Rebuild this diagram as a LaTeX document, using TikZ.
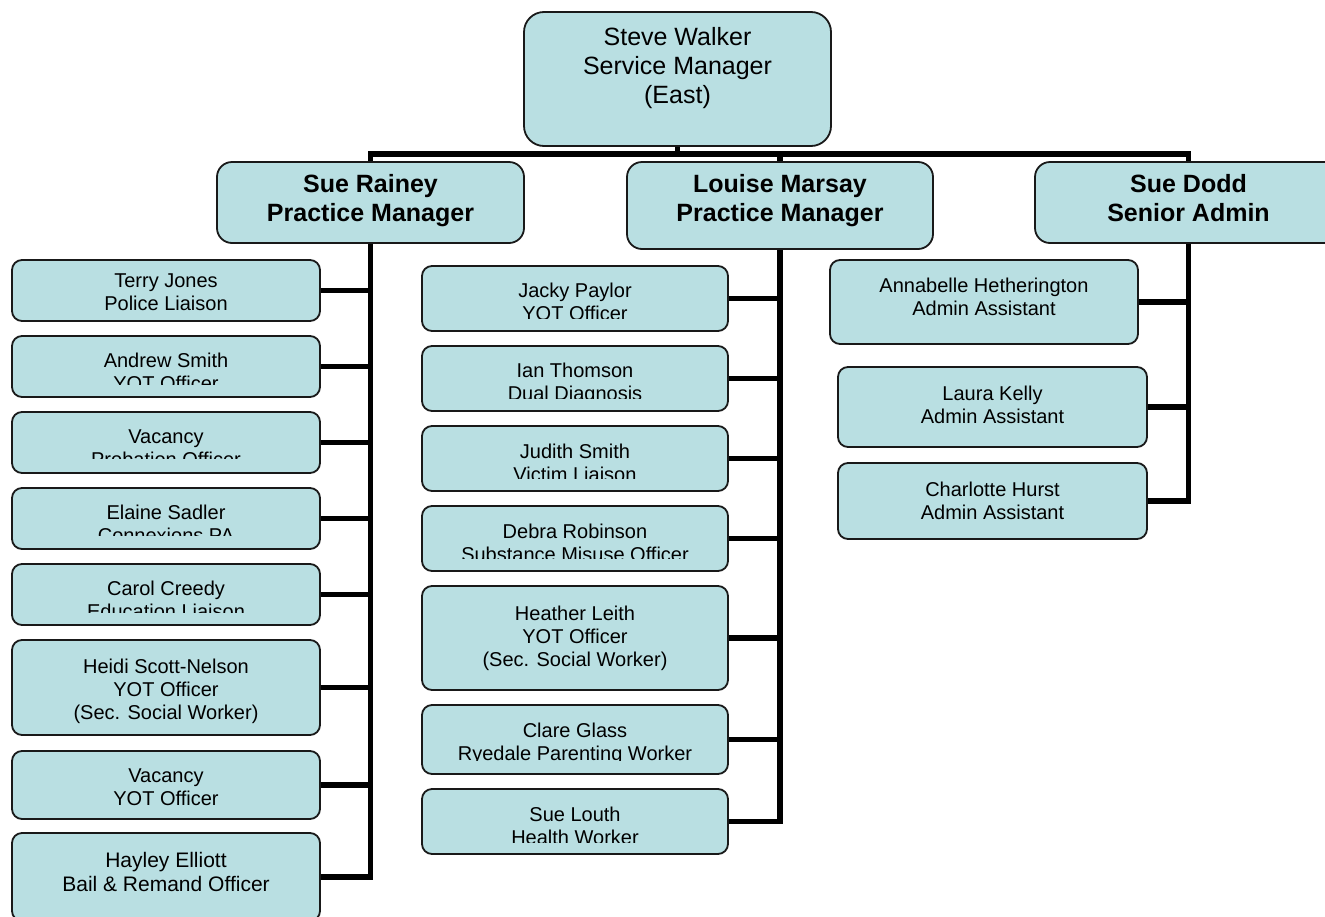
\documentclass[tikz,border=0pt]{standalone}
\usepackage{fontspec}
\setmainfont{Liberation Sans}
\usetikzlibrary{fit}

\definecolor{boxfill}{RGB}{185,223,226}
\definecolor{boxline}{RGB}{25,25,25}

\tikzset{
  box/.style={draw=boxline, line width=1.8pt, fill=boxfill, inner sep=0pt, rounded corners=10pt},
  headbox/.style={box, rounded corners=15pt},
  topbox/.style={box, rounded corners=20pt},
  txt/.style={align=center, inner sep=0pt, anchor=base, font=\fontsize{20}{23}\selectfont},
  bigtxt/.style={txt, font=\fontsize{21}{24}\selectfont},
  headtxt/.style={txt, font=\fontsize{25}{29}\selectfont\bfseries},
  toptxt/.style={txt, font=\fontsize{25}{29}\selectfont},
  conn/.style={draw=black, line width=5.5pt, line join=miter}
}

% staff box: name, x1, y1, x2, y2, baseline of the last line, text
\newcommand\staffbox[8][]{%
  \node[box, fit={(#3,#4) (#5,#6)}] (#2) {};
  \node[txt,#1] (#2-t) at ({(#3+#5)/2},#7) {#8};
}
% staff box whose text is cut off below a given line
% name, x1, y1, x2, y2, baseline of the last line, cut line, text
\newcommand\cutbox[8]{%
  \node[box, fit={(#2,#3) (#4,#5)}] (#1) {};
  \begin{scope}
    \clip (#2,#3) rectangle (#4,#7);
    \node[txt] (#1-t) at ({(#2+#4)/2},#6) {#8};
  \end{scope}
}

\begin{document}
\begin{tikzpicture}[x=1pt, y=-1pt]
\useasboundingbox (0,0) rectangle (1325,916);

% service manager
\node[topbox, fit={(524,12) (831,146)}] (walker) {};
\node[toptxt] (walker-t) at (677.5,103) {Steve Walker\\Service Manager\\(East)};

% practice managers and senior admin
\node[headbox, fit={(217,162) (524,243)}] (rainey) {};
\node[headtxt] (rainey-t) at (370.5,221.5) {Sue Rainey\\Practice Manager};
\node[headbox, fit={(627,162) (933,249)}] (marsay) {};
\node[headtxt] (marsay-t) at (780,221.5) {Louise Marsay\\Practice Manager};
\node[headbox, fit={(1035,162) (1342,243)}] (dodd) {};
\node[headtxt] (dodd-t) at (1188.5,221.5) {Sue Dodd\\Senior Admin};

% Sue Rainey's team
\staffbox{terry}{12}{260}{320}{321}{310}{Terry Jones\\Police Liaison}
\cutbox{andrew}{12}{336}{320}{397}{390}{384}{Andrew Smith\\YOT Officer}
\cutbox{vacprob}{12}{412}{320}{473}{466}{458}{Vacancy\\Probation Officer}
\cutbox{elaine}{12}{488}{320}{549}{542}{535}{Elaine Sadler\\Connexions PA}
\cutbox{carol}{12}{564}{320}{625}{618}{612}{Carol Creedy\\Education Liaison}
\staffbox{heidi}{12}{640}{320}{735}{719}{Heidi Scott-Nelson\\YOT Officer\\(Sec. Social Worker)}
\staffbox{vacyot}{12}{751}{320}{819}{805}{Vacancy\\YOT Officer}
\staffbox[bigtxt]{hayley}{12}{833}{320}{921}{891}{Hayley Elliott\\Bail \& Remand Officer}

% Louise Marsay's team
\cutbox{jacky}{422}{266}{728}{331}{320}{318}{Jacky Paylor\\YOT Officer}
\cutbox{ian}{422}{346}{728}{411}{400}{398}{Ian Thomson\\Dual Diagnosis}
\cutbox{judith}{422}{426}{728}{491}{481}{478}{Judith Smith\\Victim Liaison}
\cutbox{debra}{422}{506}{728}{571}{561}{558}{Debra Robinson\\Substance Misuse Officer}
\staffbox{heather}{422}{586}{728}{690}{666}{Heather Leith\\YOT Officer\\(Sec. Social Worker)}
\cutbox{clare}{422}{705}{728}{774}{760}{760}{Clare Glass\\Ryedale Parenting Worker}
\cutbox{louth}{422}{789}{728}{854}{844}{842}{Sue Louth\\Health Worker}

% Sue Dodd's team
\staffbox{annabelle}{830}{260}{1138}{344}{315}{Annabelle Hetherington\\Admin Assistant}
\staffbox{laura}{838}{367}{1147}{447}{423}{Laura Kelly\\Admin Assistant}
\staffbox{charlotte}{838}{463}{1147}{539}{519}{Charlotte Hurst\\Admin Assistant}

% top-level bar
\coordinate (bar) at (0,154);
\draw[conn] (walker.south) -- (walker.south |- bar);
\draw[conn] (rainey.north) -- (rainey.north |- bar) -- (dodd.north |- bar) -- (dodd.north);
\draw[conn] (marsay.north) -- (marsay.north |- bar);

% Sue Rainey's spine and branches
\draw[conn] (rainey.south) |- (hayley.east);
\foreach \n in {terry,andrew,vacprob,elaine,carol,heidi,vacyot}
  \draw[conn] (\n.east) -- (\n.east -| rainey.south);

% Louise Marsay's spine and branches
\draw[conn] (marsay.south) |- (louth.east);
\foreach \n in {jacky,ian,judith,debra,heather,clare}
  \draw[conn] (\n.east) -- (\n.east -| marsay.south);

% Sue Dodd's spine and branches
\draw[conn] (dodd.south) |- (charlotte.east);
\foreach \n in {annabelle,laura}
  \draw[conn] (\n.east) -- (\n.east -| dodd.south);
\end{tikzpicture}
\end{document}
